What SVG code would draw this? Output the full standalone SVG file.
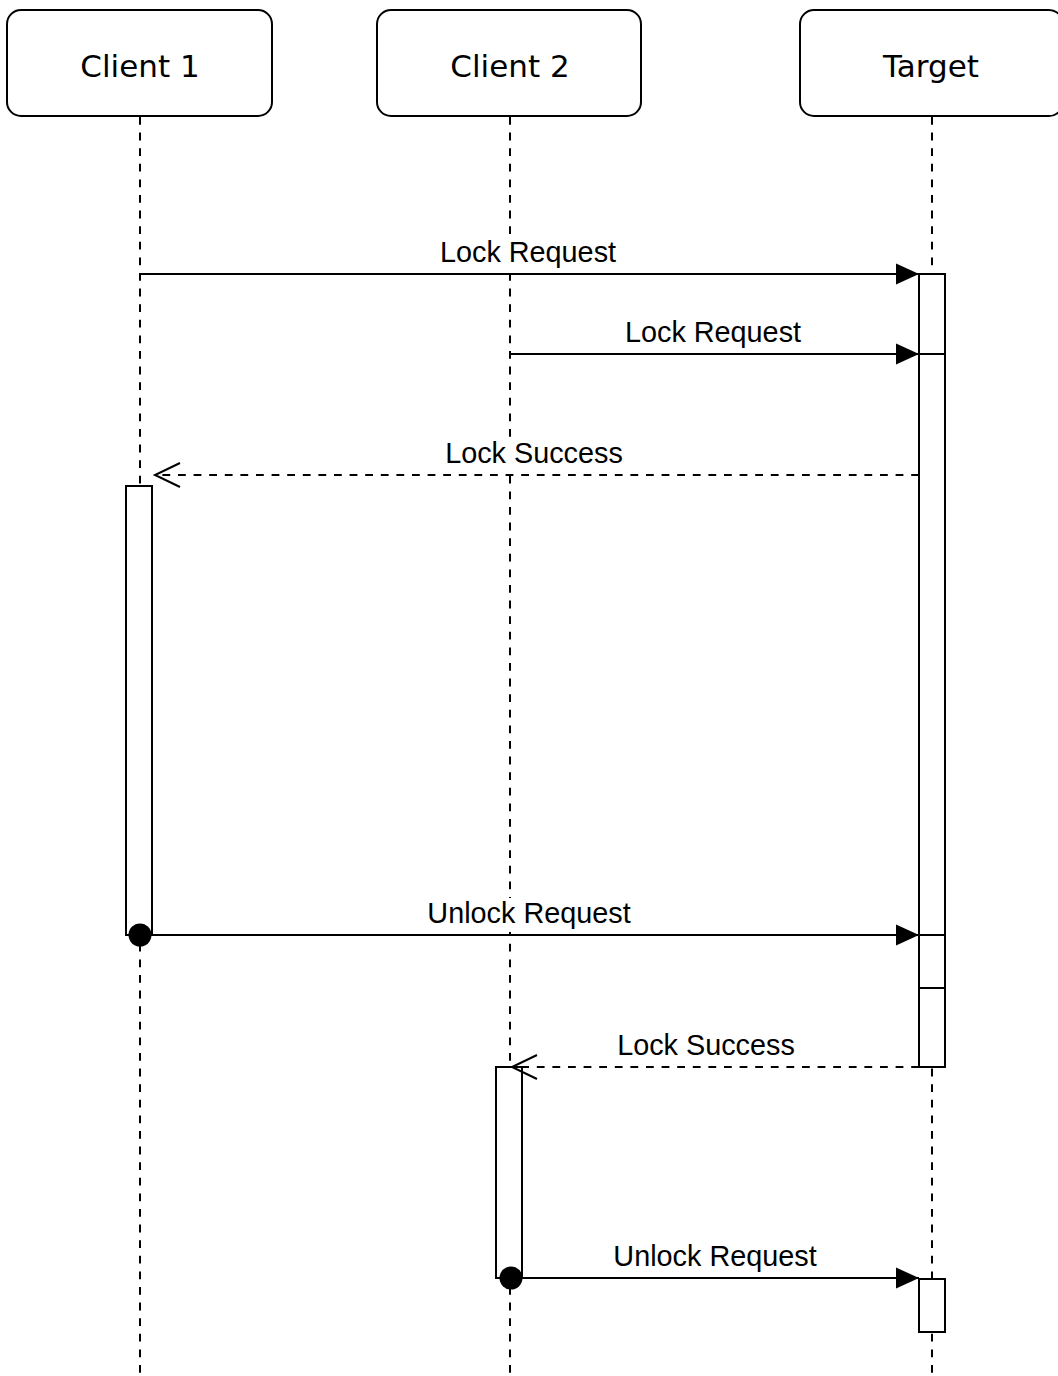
<svg xmlns="http://www.w3.org/2000/svg" width="1058" height="1376" viewBox="0 0 1058 1376">
<style>
.box{fill:#fff;stroke:#000;stroke-width:2}
.hdr{font-family:"DejaVu Sans",Verdana,sans-serif;font-size:31px;fill:#000;text-anchor:middle}
.life{stroke:#000;stroke-width:2;stroke-dasharray:7.8 7.8;fill:none}
.act{fill:#fff;stroke:#000;stroke-width:2}
.msg{stroke:#000;stroke-width:2;fill:none}
.ret{stroke:#000;stroke-width:2;fill:none;stroke-dasharray:7.8 7.8}
.lbl{font-family:"Liberation Sans",Arial,Helvetica,sans-serif;font-size:28.8px;fill:#000;text-anchor:middle}
.lblbg{fill:#fff;stroke:none}
</style>
<defs>
<marker id="fill" markerUnits="userSpaceOnUse" markerWidth="24" markerHeight="22" refX="23" refY="10.5" orient="auto" overflow="visible">
<path d="M0,0 L23,10.5 L0,21 Z" fill="#000" stroke="none"/>
</marker>
<marker id="open" markerUnits="userSpaceOnUse" markerWidth="27" markerHeight="25" refX="25" refY="12" orient="auto" overflow="visible">
<path d="M0,0 L25,12 L0,24" fill="none" stroke="#000" stroke-width="2" stroke-dasharray="none"/>
</marker>
<marker id="dot" markerUnits="userSpaceOnUse" markerWidth="26" markerHeight="26" refX="12" refY="12" orient="auto" overflow="visible">
<circle cx="12" cy="12" r="11.5" fill="#000" stroke="none"/>
</marker>
</defs>
<g id="client1">
<rect class="box" x="7" y="10" width="265" height="106" rx="14"/>
<text class="hdr" x="140" y="77">Client 1</text>
<line class="life" x1="140" y1="117" x2="140" y2="1376"/>
</g>
<g id="client2">
<rect class="box" x="377" y="10" width="264" height="106" rx="14"/>
<text class="hdr" x="510" y="77">Client 2</text>
<line class="life" x1="510" y1="117" x2="510" y2="1376"/>
</g>
<g id="target">
<rect class="box" x="800" y="10" width="263" height="106" rx="14"/>
<text class="hdr" x="931" y="77">Target</text>
<line class="life" x1="932" y1="117" x2="932" y2="1376"/>
</g>
<g id="activations">
<rect class="act" x="919" y="274" width="26" height="80"/>
<rect class="act" x="919" y="354" width="26" height="581"/>
<rect class="act" x="919" y="935" width="26" height="53"/>
<rect class="act" x="919" y="988" width="26" height="79"/>
<rect class="act" x="126" y="486" width="26" height="449"/>
<rect class="act" x="496" y="1067" width="26" height="211"/>
<rect class="act" x="919" y="1279" width="26" height="53"/>
</g>
<g id="connectors">
<line class="msg" x1="140" y1="274" x2="919" y2="274" marker-end="url(#fill)"/>
<rect class="lblbg" x="439" y="237" width="179" height="34"/>
<text class="lbl" x="528" y="262">Lock Request</text>
<line class="msg" x1="510" y1="354" x2="919" y2="354" marker-end="url(#fill)"/>
<rect class="lblbg" x="624" y="317" width="179" height="34"/>
<text class="lbl" x="713" y="342">Lock Request</text>
<line class="ret" x1="919" y1="475" x2="155" y2="475" marker-end="url(#open)"/>
<rect class="lblbg" x="444" y="437" width="180" height="34"/>
<text class="lbl" x="534" y="463">Lock Success</text>
<line class="msg" x1="140" y1="935" x2="919" y2="935" marker-start="url(#dot)" marker-end="url(#fill)"/>
<rect class="lblbg" x="426" y="898" width="206" height="34"/>
<text class="lbl" x="529" y="923">Unlock Request</text>
<line class="ret" x1="919" y1="1067" x2="512" y2="1067" marker-end="url(#open)"/>
<rect class="lblbg" x="616" y="1030" width="180" height="34"/>
<text class="lbl" x="706" y="1055">Lock Success</text>
<line class="msg" x1="511" y1="1278" x2="919" y2="1278" marker-start="url(#dot)" marker-end="url(#fill)"/>
<rect class="lblbg" x="612" y="1241" width="206" height="34"/>
<text class="lbl" x="715" y="1266">Unlock Request</text>
</g>
</svg>
